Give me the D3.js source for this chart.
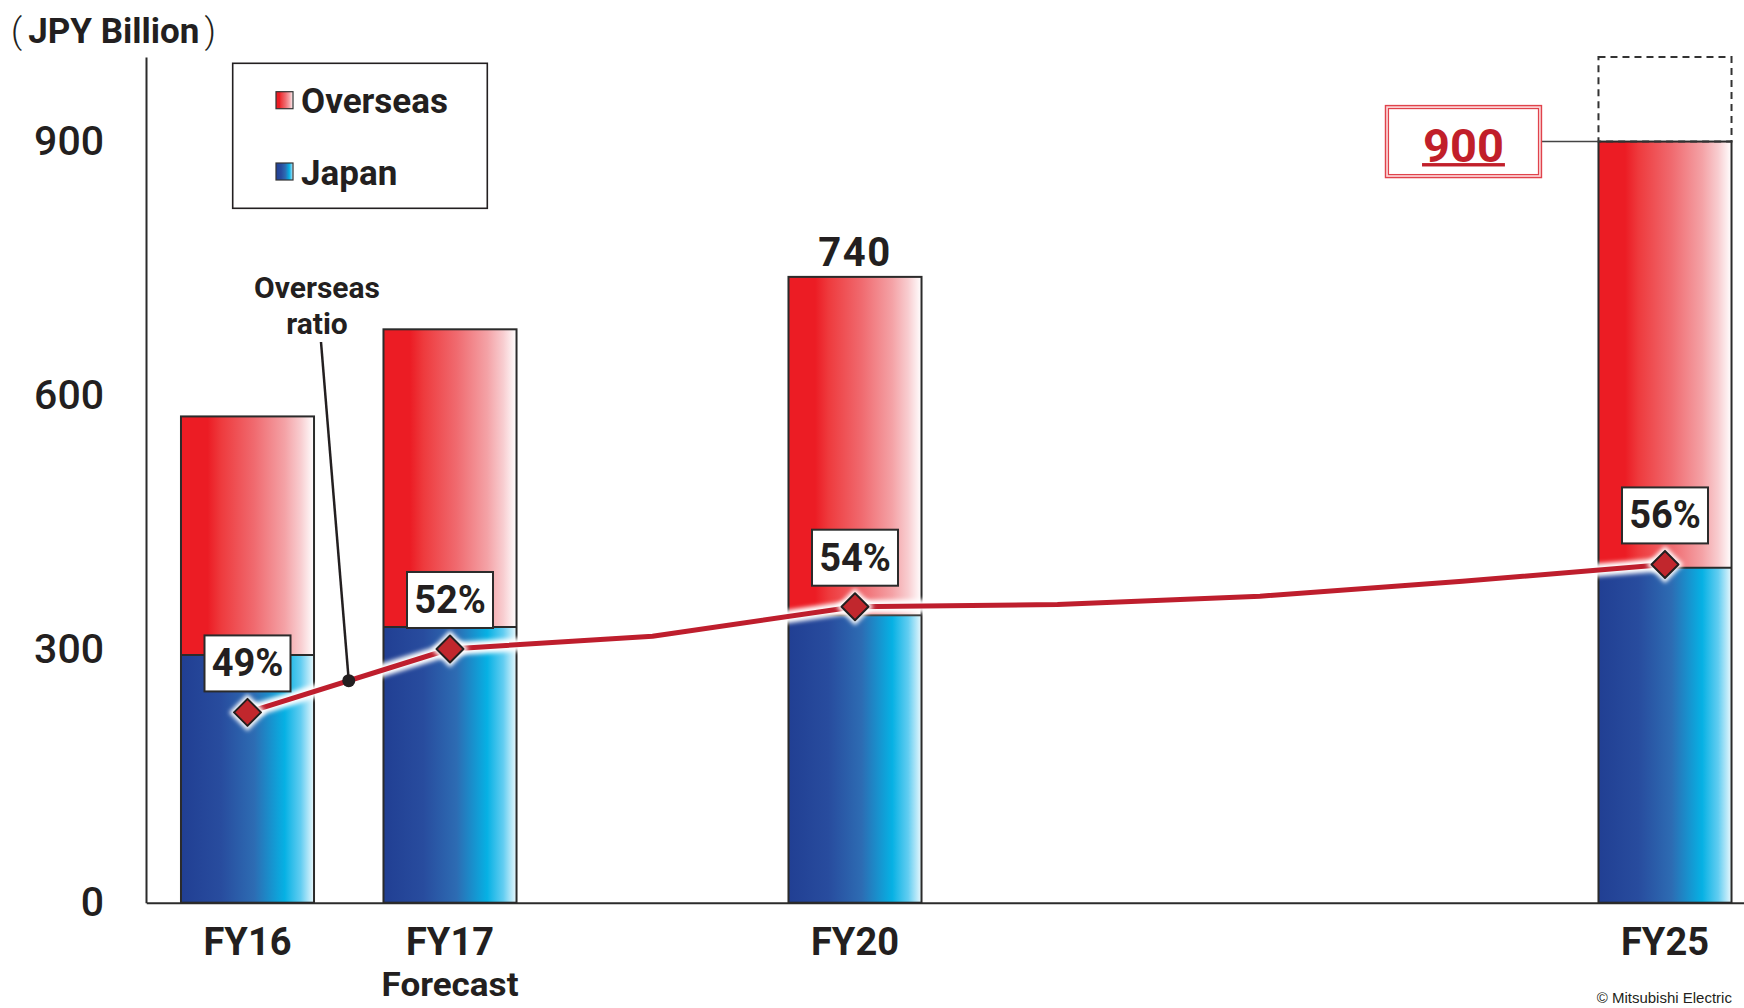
<!DOCTYPE html>
<html>
<head>
<meta charset="utf-8">
<script src="https://cdn.jsdelivr.net/npm/d3@7"></script>
<style>
  html, body { margin: 0; padding: 0; background: #fff; }
  svg { display: block; }
  text { font-family: Roboto, "Liberation Sans", sans-serif; fill: #231f20; }
</style>
</head>
<body>
<svg id="chart" width="1744" height="1008"></svg>
<script>
// Category slots along the x axis (blank slots keep the year spacing)
const categories = ["FY16", "FY17", "", "FY20", "", "", "", "FY25"];
const subLabels  = ["", "Forecast", "", "", "", "", "", ""];

// Sales, JPY billion
const japan    = [293, 326, null, 340, null, null, null, 396];
const overseas = [282, 352, null, 400, null, null, null, 504];

// Overseas ratio, %
const overseasRatio = [49, 52, 52.6, 54, 54.1, 54.5, 55.2, 56];

// Axis ticks
const yTicks = [0, 300, 600, 900];
const yMax = 1000;          // upper end of the sales axis (dashed headroom above FY25)
const ratioDomain = [40, 80];

const W = 1744, H = 1008;
const svg = d3.select("#chart").attr("viewBox", `0 0 ${W} ${H}`);

const x = d3.scaleBand()
  .domain(d3.range(categories.length))
  .range([146.25, 1766.25])
  .paddingInner(0.343)
  .paddingOuter(0.1715);
const y  = d3.scaleLinear().domain([0, yMax]).range([902.7, 57]);
const yR = d3.scaleLinear().domain(ratioDomain).range([902.7, 57]);
const cx = i => x(i) + x.bandwidth() / 2;
const bw = x.bandwidth();

// ---------- gradients & filters ----------
const defs = svg.append("defs");
function hGradient(id, stops) {
  const g = defs.append("linearGradient").attr("id", id)
    .attr("x1", "0%").attr("x2", "100%").attr("y1", "0%").attr("y2", "0%");
  stops.forEach(([o, c]) => g.append("stop").attr("offset", o).attr("stop-color", c));
}
hGradient("gradOverseas", [
  [0, "#ec1c24"], [0.2, "#ec1c24"], [0.3, "#ee3a3d"], [0.55, "#f06a6f"],
  [0.78, "#f4a2a6"], [0.9, "#f8cdd0"], [1, "#ffffff"]
]);
hGradient("gradJapan", [
  [0, "#213f93"], [0.3, "#284c9e"], [0.55, "#2d6cb3"], [0.78, "#06b1e4"],
  [0.9, "#62cdf1"], [1, "#eaf8fd"]
]);
const glow = defs.append("filter").attr("id", "glow")
  .attr("x", "-50%").attr("y", "-50%").attr("width", "200%").attr("height", "200%");
glow.append("feGaussianBlur").attr("stdDeviation", 2.2);

// ---------- bars ----------
const barIdx = d3.range(categories.length).filter(i => japan[i] != null);
const bars = svg.append("g").attr("class", "bars");
barIdx.forEach(i => {
  const total = japan[i] + overseas[i];
  bars.append("rect")
    .attr("x", x(i)).attr("width", bw)
    .attr("y", y(total)).attr("height", y(japan[i]) - y(total))
    .attr("fill", "url(#gradOverseas)");
  bars.append("rect")
    .attr("x", x(i)).attr("width", bw)
    .attr("y", y(japan[i])).attr("height", y(0) - y(japan[i]))
    .attr("fill", "url(#gradJapan)");
  // outlines
  bars.append("rect")
    .attr("x", x(i)).attr("width", bw)
    .attr("y", y(total)).attr("height", y(0) - y(total))
    .attr("fill", "none").attr("stroke", "#2b2b2b").attr("stroke-width", 2);
  bars.append("line")
    .attr("x1", x(i)).attr("x2", x(i) + bw)
    .attr("y1", y(japan[i])).attr("y2", y(japan[i]))
    .attr("stroke", "#2b2b2b").attr("stroke-width", 2);
});

// ---------- axes ----------
const yAxis = svg.append("g").attr("transform", "translate(146,0)")
  .call(d3.axisLeft(y).tickValues(yTicks).tickSize(0).tickPadding(42));
yAxis.select(".domain").attr("stroke", "#2b2b2b").attr("stroke-width", 2);
yAxis.selectAll("text")
  .style("font-family", "Roboto, sans-serif")
  .attr("font-size", 41).attr("font-weight", 500).attr("fill", "#231f20");

const xAxis = svg.append("g").attr("transform", `translate(0,${y(0)})`)
  .call(d3.axisBottom(x).tickSize(0).tickFormat(i => categories[i]));
xAxis.select(".domain").attr("stroke", "#2b2b2b").attr("stroke-width", 2);
xAxis.selectAll(".tick").filter(i => !categories[i]).remove();
xAxis.selectAll(".tick text")
  .attr("y", 52).attr("dy", 0)
  .style("font-family", "Roboto, sans-serif")
  .attr("font-size", 38).attr("font-weight", 700).attr("fill", "#231f20");
// second line under a category label
xAxis.selectAll(".tick").filter(i => subLabels[i])
  .append("text")
  .attr("y", 93.5).attr("text-anchor", "middle")
  .style("font-family", "Roboto, sans-serif")
  .attr("font-size", 34).attr("font-weight", 700).attr("fill", "#231f20")
  .attr("textLength", 137).attr("lengthAdjust", "spacingAndGlyphs")
  .text(i => subLabels[i]);

// ---------- FY25 headroom & target callout ----------
const last = categories.length - 1;
const lastTotal = japan[last] + overseas[last];
svg.append("rect")
  .attr("x", x(last)).attr("width", bw)
  .attr("y", y(yMax)).attr("height", y(lastTotal) - y(yMax))
  .attr("fill", "none").attr("stroke", "#333").attr("stroke-width", 2)
  .attr("stroke-dasharray", "7 5");

const callW = 156, callH = 72;
const callX = x(last) - 57 - callW, callY = y(lastTotal) - callH / 2;
svg.append("line")
  .attr("x1", callX + callW).attr("x2", x(last))
  .attr("y1", y(lastTotal)).attr("y2", y(lastTotal))
  .attr("stroke", "#444").attr("stroke-width", 1.5);
svg.append("rect")
  .attr("x", callX).attr("y", callY).attr("width", callW).attr("height", callH)
  .attr("fill", "#fbd6d8").attr("stroke", "#e0434c").attr("stroke-width", 1.4);
svg.append("rect")
  .attr("x", callX + 3).attr("y", callY + 3).attr("width", callW - 6).attr("height", callH - 6)
  .attr("fill", "#fff").attr("stroke", "#e0434c").attr("stroke-width", 1.2);
const callText = svg.append("text")
  .attr("x", callX + callW / 2).attr("y", callY + 56.4)
  .attr("text-anchor", "middle")
  .attr("font-size", 47).attr("font-weight", 700)
  .style("fill", "#c11f2a")
  .text(d3.format("d")(lastTotal));
const tl = callText.node().getComputedTextLength();
svg.append("rect")
  .attr("x", callX + callW / 2 - tl / 2 - 1).attr("width", tl + 2)
  .attr("y", callY + 57.5).attr("height", 3.4)
  .attr("fill", "#c11f2a");

// ---------- FY20 total label ----------
const fy20 = categories.indexOf("FY20");
svg.append("text")
  .attr("x", cx(fy20)).attr("y", y(japan[fy20] + overseas[fy20]) - 10.6)
  .attr("text-anchor", "middle")
  .attr("font-size", 40).attr("font-weight", 700)
  .attr("letter-spacing", 1.5)
  .text(japan[fy20] + overseas[fy20]);

// ---------- overseas ratio line ----------
const linePath = d3.line()
  .x((d, i) => cx(i))
  .y(d => yR(d));
svg.append("path")
  .attr("d", linePath(overseasRatio))
  .attr("fill", "none").attr("stroke", "#fff").attr("stroke-width", 13)
  .attr("stroke-linejoin", "round")
  .attr("filter", "url(#glow)");
svg.append("path")
  .attr("d", linePath(overseasRatio))
  .attr("fill", "none").attr("stroke", "#be1e2d").attr("stroke-width", 5)
  .attr("stroke-linejoin", "round");

const dSize = 13.5;
const diamond = (px, py, r) => `M${px},${py - r}L${px + r},${py}L${px},${py + r}L${px - r},${py}Z`;
const markers = svg.append("g");
barIdx.forEach(i => {
  markers.append("path")
    .attr("d", diamond(cx(i), yR(overseasRatio[i]), dSize + 5))
    .attr("fill", "#fff").attr("filter", "url(#glow)");
  markers.append("path")
    .attr("d", diamond(cx(i), yR(overseasRatio[i]), dSize))
    .attr("fill", "#c1272d").attr("stroke", "#231f20").attr("stroke-width", 2)
    .attr("stroke-linejoin", "round");
});

// ratio labels in boxes
const boxW = 86, boxH = 56;
barIdx.forEach(i => {
  const by = yR(overseasRatio[i]) - 21 - boxH;
  svg.append("rect")
    .attr("x", cx(i) - boxW / 2).attr("y", by).attr("width", boxW).attr("height", boxH)
    .attr("fill", "#fff").attr("stroke", "#2b2b2b").attr("stroke-width", 2);
  svg.append("text")
    .attr("x", cx(i)).attr("y", by + 41)
    .attr("text-anchor", "middle")
    .attr("font-size", 38).attr("font-weight", 700)
    .text(overseasRatio[i] + "%");
});

// "Overseas ratio" leader
const dotX = (cx(0) + cx(1)) / 2;
const dotY = (yR(overseasRatio[0]) + yR(overseasRatio[1])) / 2;
svg.append("line")
  .attr("x1", 321).attr("y1", 342).attr("x2", dotX).attr("y2", dotY)
  .attr("stroke", "#231f20").attr("stroke-width", 2.5);
svg.append("circle").attr("cx", dotX).attr("cy", dotY).attr("r", 6.5).attr("fill", "#231f20");
const lead = svg.append("text").attr("text-anchor", "middle")
  .attr("font-size", 30).attr("font-weight", 700);
lead.append("tspan").attr("x", 317).attr("y", 298).text("Overseas");
lead.append("tspan").attr("x", 317).attr("y", 334).text("ratio");

// ---------- legend ----------
const legend = svg.append("g");
legend.append("rect")
  .attr("x", 232.7).attr("y", 63.3).attr("width", 254.6).attr("height", 145)
  .attr("fill", "#fff").attr("stroke", "#231f20").attr("stroke-width", 1.6);
[["Overseas", "url(#gradOverseas)", 91.7, 113], ["Japan", "url(#gradJapan)", 163, 185]]
  .forEach(([label, fill, sy, ty]) => {
    legend.append("rect").attr("x", 276).attr("y", sy).attr("width", 17).attr("height", 17)
      .attr("fill", fill).attr("stroke", "#333").attr("stroke-width", 1.2);
    legend.append("text").attr("x", 301).attr("y", ty)
      .attr("font-size", 35).attr("font-weight", 700).text(label);
  });

// ---------- unit title ----------
const title = svg.append("text").attr("x", 11).attr("y", 43).attr("font-size", 35);
title.append("tspan").attr("font-weight", 300).text("(");
title.append("tspan").attr("dx", 6).attr("font-weight", 700).text("JPY Billion");
title.append("tspan").attr("dx", 5).attr("font-weight", 300).text(")");

// ---------- copyright ----------
svg.append("text")
  .attr("x", 1596.7).attr("y", 1003)
  .style("font-family", "'Liberation Sans', Arial, sans-serif")
  .attr("font-size", 15)
  .text("© Mitsubishi Electric");
</script>
</body>
</html>
